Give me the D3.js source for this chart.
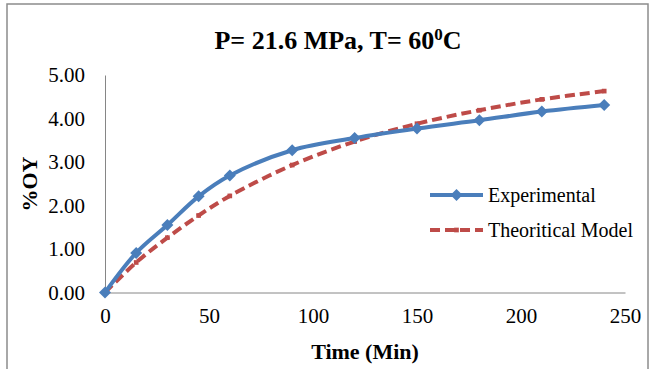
<!DOCTYPE html>
<html>
<head>
<meta charset="utf-8">
<script src="https://cdn.jsdelivr.net/npm/d3@7"></script>
<style>
  html, body { margin: 0; padding: 0; background: #fff; }
  svg { display: block; }
</style>
</head>
<body>
<svg id="chart" width="649" height="369"></svg>
<script>
const times = [0, 15, 30, 45, 60, 90, 120, 150, 180, 210, 240];
const experimental = [0, 0.91, 1.55, 2.21, 2.69, 3.27, 3.55, 3.77, 3.96, 4.16, 4.31];
const theoretical = [0, 0.69, 1.26, 1.77, 2.22, 2.93, 3.47, 3.88, 4.19, 4.44, 4.63];
const xTicks = [0, 50, 100, 150, 200, 250];
const yTicks = [0, 1, 2, 3, 4, 5];
const seriesNames = ["Experimental", "Theoritical Model"];

const svg = d3.select("#chart");
const W = 649, H = 369;
const plot = { left: 105, right: 625, top: 75, bottom: 292.5 };

svg.append("rect").attr("x", 7).attr("y", 4).attr("width", 641).attr("height", 370)
  .attr("fill", "#fff").attr("stroke", "#8c8c8c").attr("stroke-width", 1.5);

const x = d3.scaleLinear().domain([0, 250]).range([plot.left, plot.right]);
const y = d3.scaleLinear().domain([0, 5]).range([plot.bottom, plot.top]);

const serif = "'Liberation Serif', 'Times New Roman', serif";

// Axes
const xAxis = svg.append("g").attr("transform", `translate(0,${plot.bottom})`)
  .call(d3.axisBottom(x).tickValues(xTicks).tickSize(0).tickPadding(16).tickFormat(d3.format("d")));
const yAxis = svg.append("g").attr("transform", `translate(${plot.left},0)`)
  .call(d3.axisLeft(y).tickValues(yTicks).tickSize(0).tickPadding(20).tickFormat(d3.format(".2f")));
[xAxis, yAxis].forEach(g => {
  g.select(".domain").attr("stroke", "#868686").attr("stroke-width", 1);
  g.selectAll("text").attr("font-family", serif).attr("font-size", 21).attr("fill", "#000");
});

// Title
const title = svg.append("text").attr("x", 338).attr("y", 49)
  .attr("text-anchor", "middle").attr("font-family", serif).attr("font-weight", "bold")
  .attr("font-size", 26).attr("fill", "#000");
title.append("tspan").text("P= 21.6 MPa, T= 60");
title.append("tspan").attr("dy", -9).attr("font-size", 17).text("0");
title.append("tspan").attr("dy", 9).text("C");

// Axis titles
svg.append("text").attr("x", 365).attr("y", 359).attr("text-anchor", "middle")
  .attr("font-family", serif).attr("font-weight", "bold").attr("font-size", 22)
  .text("Time (Min)");
svg.append("text").attr("transform", "translate(37,184) rotate(-90)").attr("text-anchor", "middle")
  .attr("font-family", serif).attr("font-weight", "bold").attr("font-size", 22)
  .text("%OY");

const blue = "#4A7EBB", red = "#BE4B48";
const line = d3.line().x(d => x(d[0])).y(d => y(d[1])).curve(d3.curveCatmullRom.alpha(0.5));

const expData = times.map((t, i) => [t, experimental[i]]);
const thData = times.map((t, i) => [t, theoretical[i]]);

svg.append("path").datum(thData).attr("d", line).attr("fill", "none")
  .attr("stroke", red).attr("stroke-width", 4).attr("stroke-dasharray", "10,5");
svg.selectAll(".thm").data(thData).join("path").attr("class", "thm")
  .attr("d", d3.symbol(d3.symbolSquare, 22))
  .attr("transform", d => `translate(${x(d[0])},${y(d[1])})`).attr("fill", red);

svg.append("path").datum(expData).attr("d", line).attr("fill", "none")
  .attr("stroke", blue).attr("stroke-width", 4);
svg.selectAll(".exm").data(expData).join("path").attr("class", "exm")
  .attr("d", d3.symbol(d3.symbolSquare, 72))
  .attr("transform", d => `translate(${x(d[0])},${y(d[1])}) rotate(45)`).attr("fill", blue);

// Legend
const leg = svg.append("g");
const legY = [195, 230];
leg.append("line").attr("x1", 430).attr("x2", 483).attr("y1", legY[0]).attr("y2", legY[0])
  .attr("stroke", blue).attr("stroke-width", 4);
leg.append("path").attr("d", d3.symbol(d3.symbolSquare, 72))
  .attr("transform", `translate(456.5,${legY[0]}) rotate(45)`).attr("fill", blue);
leg.append("line").attr("x1", 430).attr("x2", 483).attr("y1", legY[1]).attr("y2", legY[1])
  .attr("stroke", red).attr("stroke-width", 4).attr("stroke-dasharray", "10,5");
leg.append("path").attr("d", d3.symbol(d3.symbolSquare, 22))
  .attr("transform", `translate(456.5,${legY[1]})`).attr("fill", red);
seriesNames.forEach((n, i) => {
  leg.append("text").attr("x", 488).attr("y", legY[i] + 7)
    .attr("font-family", serif).attr("font-size", 20).attr("fill", "#000").text(n);
});
</script>
</body>
</html>
